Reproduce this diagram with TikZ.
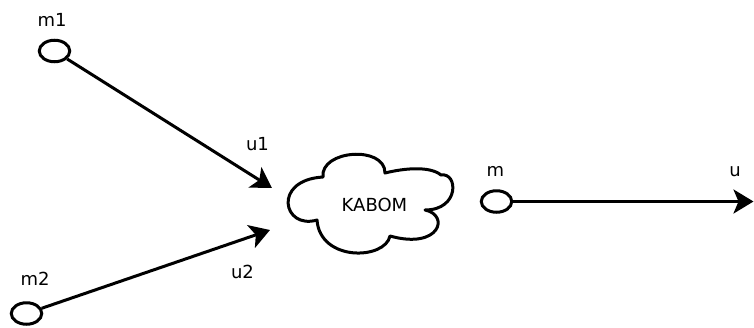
\documentclass[tikz,border=0pt]{standalone}
\usepackage{fontspec}
\setmainfont{DejaVu Sans}
\usetikzlibrary{shapes.geometric,arrows.meta}
\begin{document}
\begin{tikzpicture}[x=1pt,y=-1pt,
  port/.style={draw,ellipse,line width=3pt,minimum width=30.5pt,minimum height=21.5pt,inner sep=0pt},
  lbl/.style={anchor=base,inner sep=0pt,font=\fontsize{18}{20}\selectfont},
  conn/.style={line width=3pt,-{Stealth[length=20pt,width=24pt,inset=5pt]}}]
\useasboundingbox (0,0) rectangle (754,327);
% ports
\node[port] (m1) at (54.5,51) {};
\node[port] (m2) at (26.5,313.5) {};
\node[port] (m) at (496.5,201.5) {};
% cloud
\draw[line width=3pt,line join=round]
  (317,220) .. controls (283,230) and (272,180) .. (323,177)
  .. controls (320,150) and (385,145) .. (385,173)
  .. controls (405,168) and (430,166) .. (441,175)
  .. controls (458,172) and (460,210) .. (425,210)
  .. controls (450,215) and (440,250) .. (390,236)
  .. controls (385,260) and (320,262) .. (317,220) -- cycle;
\node[lbl] (kabom) at (374.5,211) {KABOM};
% arrow end points
\coordinate (t1) at (272,188);
\coordinate (t2) at (270,230);
\coordinate (t3) at (753.5,201.5);
\draw[conn] (m1) -- (t1);
\draw[conn] (m2) -- (t2);
\draw[conn] (m) -- (t3);
% labels
\node[lbl] (lm1) at (52,26) {m1};
\node[lbl] (lu1) at (257.5,150) {u1};
\node[lbl] (lm2) at (35,285) {m2};
\node[lbl] (lu2) at (242.5,278) {u2};
\node[lbl] (lm) at (495.5,176) {m};
\node[lbl] (lu) at (735,176) {u};
\end{tikzpicture}
\end{document}
